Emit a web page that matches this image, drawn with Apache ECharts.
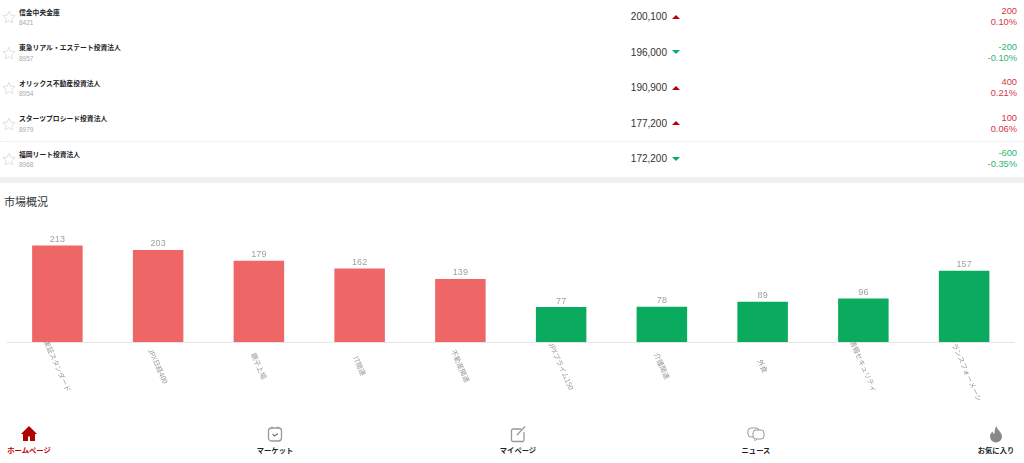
<!DOCTYPE html>
<html lang="ja">
<head>
<meta charset="utf-8">
<title>市場概況</title>
<script src="https://cdn.jsdelivr.net/npm/echarts@6/dist/echarts.min.js"></script>
<style>
html, body { margin: 0; padding: 0; background: #fff; overflow: hidden; }
body { width: 1024px; height: 463px; position: relative; font-family: "Noto Sans CJK JP", "Liberation Sans", sans-serif; }
.row { position: absolute; left: 0; width: 1024px; height: 35.5px; }
.star { position: absolute; left: 1.500px; top: 10px; width: 14px; height: 14px; }
.name { position: absolute; left: 19px; top: 5.500px; font-size: 6.8px; line-height: 12px; font-weight: 700; color: #222; white-space: nowrap; }
.code { position: absolute; left: 19px; top: 18px; font-size: 6.5px; line-height: 10px; color: #aaa; font-family: "Liberation Sans", sans-serif; }
.price { position: absolute; right: 357px; top: 10px; font-size: 10px; line-height: 14px; color: #333; font-family: "Liberation Sans", sans-serif; }
.arrow { position: absolute; left: 671.500px; top: 14.500px; width: 0; height: 0; border-left: 4.500px solid transparent; border-right: 4.500px solid transparent; }
.arrow.up { border-bottom: 4.500px solid #c00000; }
.arrow.down { border-top: 4.500px solid #0aab5f; }
.chg { position: absolute; right: 7px; top: 6px; text-align: right; font-size: 9.300px; line-height: 11px; font-family: "Liberation Sans", sans-serif; }
.chg.up { color: #d9333f; }
.chg.down { color: #2fb56f; }
#divider { position: absolute; left: 0; top: 177px; width: 1024px; height: 5.500px; background: #f0f0f0; }
#rowline { position: absolute; left: 0; top: 141px; width: 1024px; border-top: 1px dotted #e8e8e8; }
#title { position: absolute; left: 4px; top: 193px; font-size: 11px; line-height: 16px; color: #333; }
#chart { position: absolute; left: 0; top: 210px; width: 1024px; height: 205px; }
.tab { position: absolute; top: 425px; width: 80px; text-align: center; }
.tab svg { display: block; margin: 0 auto; width: 18px; height: 18px; }
.tab span { display: block; font-size: 7.300px; line-height: 10px; margin-top: 2px; font-weight: 700; color: #222; white-space: nowrap; }
</style>
</head>
<body>
<div id="rows"></div>
<div id="rowline"></div>
<div id="divider"></div>
<div id="title">市場概況</div>
<div id="chart"></div>
<div id="tabs"></div>
<script>
// list above the chart
var stockNames = ['信金中央金庫', '東急リアル・エステート投資法人', 'オリックス不動産投資法人', 'スターツプロシード投資法人', '福岡リート投資法人'];
var stockCodes = ['8421', '8957', '8954', '8979', '8968'];
var stockPrices = ['200,100', '196,000', '190,900', '177,200', '172,200'];
var stockChanges = ['200', '-200', '400', '100', '-600'];
var stockRates = ['0.10%', '-0.10%', '0.21%', '0.06%', '-0.35%'];

// bars
var categories = ['東証スタンダード', 'JPX日経400', '親子上場', 'IT関連', '不動産関連', 'JPXプライム150', '介護関連', '外食', '情報セキュリティ', 'ートランスフォーメーシ'];
var values = [213, 203, 179, 162, 139, 77, 78, 89, 96, 157];
var upCount = 5;

var tabNames = ['ホームページ', 'マーケット', 'マイページ', 'ニュース', 'お気に入り'];
var tabCenters = [29, 275, 518, 756, 996];
var tabIcons = [
  '<path d="M9 1 L17 9 H15 V16 H3 V9 H1 Z" fill="#b00000"/><rect x="8" y="11.5" width="2" height="4.5" fill="#fff"/>',
  '<rect x="2.5" y="3" width="13" height="13" rx="3" fill="none" stroke="#999" stroke-width="1.3"/><path d="M6 1.5V4M12 1.5V4" stroke="#999" stroke-width="1.2"/><path d="M6.5 9l2 2 3.5-2.5" fill="none" stroke="#777" stroke-width="1.1"/>',
  '<path d="M12 4H4a1.5 1.5 0 0 0-1.500 1.500V15a1.500 1.500 0 0 0 1.500 1.500h9.500A1.500 1.500 0 0 0 15 15V7" fill="none" stroke="#999" stroke-width="1.3"/><path d="M8 10L16 1.500" stroke="#999" stroke-width="1.300"/>',
  '<rect x="1" y="3" width="11" height="9" rx="3" fill="#fff" stroke="#999" stroke-width="1"/><rect x="6" y="5" width="11" height="9" rx="3" fill="#fff" stroke="#999" stroke-width="1"/><path d="M8 14v2l2-2" fill="#fff" stroke="#999" stroke-width="0.800"/>',
  '<path d="M9.500 1C10 5 15 7 15 11.500A6 6 0 0 1 3 11.500C3 9 4.500 7.500 5.500 6.500C6 8 6.500 8.500 7.500 9C7.500 6 8 3 9.500 1Z" fill="#888"/>'
];
var starIcon = '<svg class="star" viewBox="0 0 24 24"><path d="M12 2l3 6.800 7.400.800-5.500 5 1.500 7.300L12 18.200 5.600 21.900l1.500-7.300-5.500-5 7.400-.800z" fill="none" stroke="#ddd" stroke-width="1.500"/></svg>';

var rowsHtml = '';
for (var i = 0; i < stockNames.length; i++) {
  var dir = stockChanges[i].charAt(0) === '-' ? 'down' : 'up';
  rowsHtml += '<div class="row" style="top:' + (i * 35.5) + 'px">'
    + starIcon
    + '<div class="name">' + stockNames[i] + '</div>'
    + '<div class="code">' + stockCodes[i] + '</div>'
    + '<div class="price">' + stockPrices[i] + '</div>'
    + '<div class="arrow ' + dir + '"></div>'
    + '<div class="chg ' + dir + '">' + stockChanges[i] + '<br>' + stockRates[i] + '</div>'
    + '</div>';
}
document.getElementById('rows').innerHTML = rowsHtml;

var tabsHtml = '';
for (var t = 0; t < tabNames.length; t++) {
  var color = t === 0 ? ' style="color:#c00000"' : '';
  tabsHtml += '<div class="tab" style="left:' + (tabCenters[t] - 40) + 'px">'
    + '<svg viewBox="0 0 18 18">' + tabIcons[t] + '</svg>'
    + '<span' + color + '>' + tabNames[t] + '</span></div>';
}
document.getElementById('tabs').innerHTML = tabsHtml;

var myChart = echarts.init(document.getElementById('chart'));
myChart.setOption({
  animation: false,
  grid: { left: 7, right: 9.5, top: 15, height: 117 },
  xAxis: {
    type: 'category',
    data: categories,
    axisTick: { show: false },
    axisLine: { lineStyle: { color: '#e0e0e0', width: 1, type: 'dotted' } },
    axisLabel: {
      interval: 0,
      rotate: -66,
      align: 'center',
      verticalAlign: 'middle',
      margin: 24,
      fontSize: 7,
      color: '#999',
      fontFamily: 'Noto Sans CJK JP'
    }
  },
  yAxis: { type: 'value', min: 0, max: 258, show: false },
  series: [{
    type: 'bar',
    barWidth: 50.5,
    data: values.map(function (v, i) {
      return { value: v, itemStyle: { color: i < upCount ? '#ee6666' : '#0aab5f' } };
    }),
    label: { show: true, position: 'top', distance: 1.5, fontSize: 9, color: '#a0a0a0', fontFamily: 'Liberation Sans' }
  }]
});
</script>
</body>
</html>
